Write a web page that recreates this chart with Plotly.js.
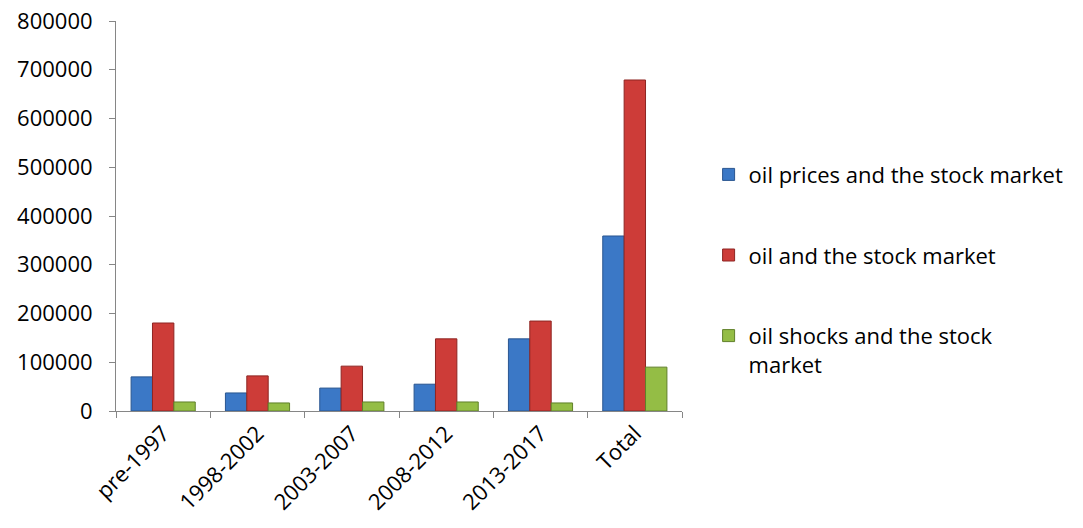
<!DOCTYPE html>
<html>
<head>
<meta charset="utf-8">
<script src="https://cdn.plot.ly/plotly-3.0.1.min.js"></script>
<style>html,body{margin:0;padding:0;background:#fff;}#chart{width:1083px;height:528px;}</style>
</head>
<body>
<div id="chart"></div>
<script>
var categories = ["pre-1997", "1998-2002", "2003-2007", "2008-2012", "2013-2017", "Total"];
var seriesNames = ["oil prices and the stock market", "oil and the stock market", "oil shocks and the stock<br>market"];
var oilPrices = [70000, 37000, 47000, 55000, 148000, 359000];
var oilStock = [180500, 72000, 92000, 148000, 184500, 679000];
var oilShocks = [18500, 16500, 18500, 18500, 16500, 90000];
var yTicks = [0, 100000, 200000, 300000, 400000, 500000, 600000, 700000, 800000];

var fillColors = ["#3b78c6", "#cd3c38", "#94bd45"];
var lineColors = ["#2a5690", "#8e2522", "#60802a"];
var values = [oilPrices, oilStock, oilShocks];

var traces = values.map(function (v, i) {
  return {
    type: "bar",
    x: categories,
    y: v,
    name: seriesNames[i],
    legendgroup: "g" + i,
    marker: { color: fillColors[i], line: { color: lineColors[i], width: 1 } },
    hoverinfo: "x+y"
  };
});

var font = { family: "Open Sans, Lato, sans-serif", size: 22, color: "#000" };

var layout = {
  width: 1083,
  height: 528,
  margin: { l: 116, r: 401, t: 21, b: 117, pad: 0, autoexpand: false },
  paper_bgcolor: "#fff",
  plot_bgcolor: "#fff",
  font: font,
  barmode: "group",
  bargap: 0.32,
  bargroupgap: 0,
  showlegend: true,
  legend: {
    x: 1.047, xanchor: "left",
    y: 0.66, yanchor: "top",
    font: font,
    tracegroupgap: 49,
    valign: "top",
    itemwidth: 30,
    bgcolor: "rgba(0,0,0,0)"
  },
  xaxis: {
    type: "category",
    tickson: "boundaries",
    ticks: "outside",
    ticklen: 6,
    tickcolor: "#868686",
    showline: true,
    linecolor: "#868686",
    linewidth: 1,
    tickangle: -45,
    tickfont: font,
    showgrid: false,
    zeroline: false
  },
  yaxis: {
    range: [0, 800000],
    tickvals: yTicks,
    ticktext: yTicks.map(String),
    ticks: "outside",
    ticklen: 6,
    tickcolor: "#868686",
    showline: true,
    linecolor: "#868686",
    linewidth: 1,
    showgrid: false,
    zeroline: false,
    tickfont: font,
    ticklabelstandoff: 12
  }
};

Plotly.newPlot("chart", traces, layout, { displayModeBar: false, staticPlot: true });
</script>
</body>
</html>
